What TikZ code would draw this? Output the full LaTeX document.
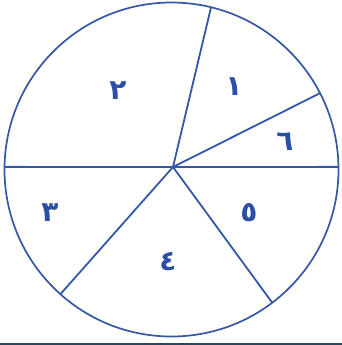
\documentclass[tikz,border=0pt]{standalone}
\usepackage{fontspec}
\newfontfamily\arabicfont[Script=Arabic]{DejaVu Sans}
\TeXXeTstate=1
\usepackage{tikz}
\usetikzlibrary{calc}
\definecolor{pieblue}{HTML}{3457A6}
\definecolor{digitblue}{HTML}{2A4FA8}
\definecolor{barslate}{HTML}{2E4761}

\begin{document}
\begin{tikzpicture}[
    x=0.5pt, y=-0.5pt,
    rim/.style={draw=pieblue, line width=0.85pt},
    spoke/.style={draw=pieblue, line width=0.9pt},
    digit/.style={text=digitblue, font=\arabicfont\bfseries\fontsize{14}{16}\selectfont, inner sep=0pt},
]
\useasboundingbox (0,0) rectangle (342,345);

% Circle, hub and rim points
\coordinate (c) at (171.5,169.5);
\coordinate (hub) at (173,167);
\draw[rim] (c) circle[radius=167];
\coordinate (rimTop) at ($(c)+(-76.3:167)$);
\coordinate (rimNE) at ($(c)+(-27.2:167)$);
\coordinate (rimE) at ($(c)+(-0.9:167)$);
\coordinate (rimW) at ($(c)+(180.9:167)$);
\coordinate (rimSW) at ($(c)+(131.7:167)$);
\coordinate (rimSE) at ($(c)+(52.9:167)$);

% Spokes
\draw[spoke] (rimW) -- (hub) -- (rimE);
\foreach \r in {rimTop, rimNE, rimSW, rimSE}
  \draw[spoke] (hub) -- (\r);

% Sector numbers
\node[digit] (one) at (234,87) {\beginR ١\endR};
\node[digit] (two) at (118,91) {\beginR ٢\endR};
\node[digit] (three) at (50,213) {\beginR ٣\endR};
\node[digit] (four) at (168,262) {\beginR ٤\endR};
\node[digit] (five) at (249,213) {\beginR ٥\endR};
\node[digit] (six) at (285,142) {\beginR ٦\endR};

% Bottom edge
\fill[barslate] (0,342.5) rectangle (342,345);
\end{tikzpicture}
\end{document}
